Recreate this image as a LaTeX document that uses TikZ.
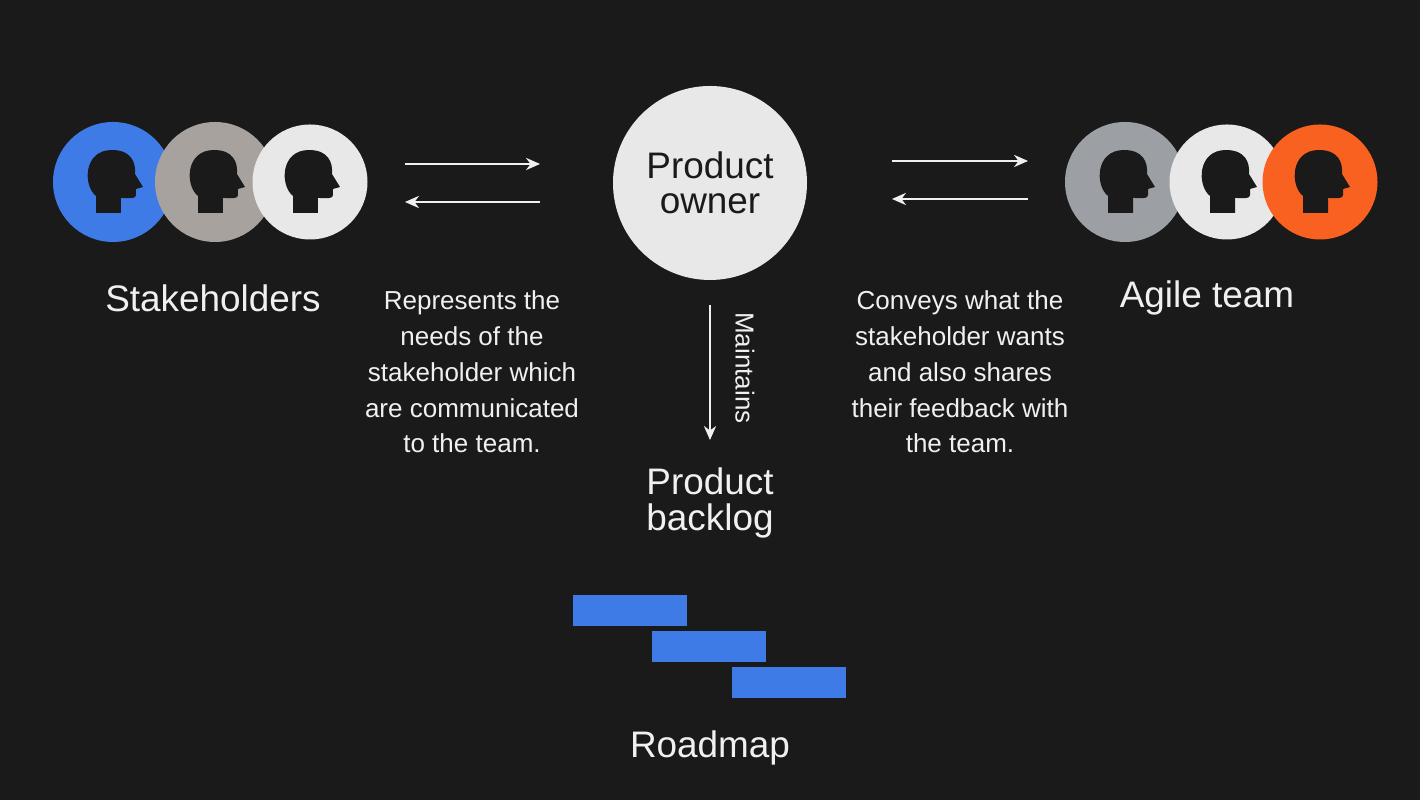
\documentclass[tikz,border=0pt]{standalone}
\usepackage{fontspec}
\setmainfont{Liberation Sans}
\definecolor{rmBg}{HTML}{1A1A1A}
\definecolor{rmText}{HTML}{F0F0F0}
\definecolor{rmBlue}{HTML}{3F7BE6}
\definecolor{rmStone}{HTML}{A8A29E}
\definecolor{rmLight}{HTML}{E8E8E8}
\definecolor{rmSlate}{HTML}{9CA0A4}
\definecolor{rmOrange}{HTML}{F96120}
\usetikzlibrary{positioning,arrows.meta}
\tikzset{
  person/.style={circle, minimum size=1.2cm, inner sep=0pt, fill=#1},
  title/.style={text=rmText, font=\fontsize{10.5pt}{10pt}\selectfont, align=center},
  note/.style={text=rmText, font=\fontsize{7.4pt}{10.2pt}\selectfont, align=center},
  flow/.style={draw=rmText, line width=0.4pt, -{Stealth[length=4pt,width=3.5pt]}},
  bar/.style={fill=rmBlue}
}
\newcommand{\headicon}[1]{%
  \fill[rmBg, shift={(#1)}, scale=0.01, yscale=-1]
    (-17,31) -- (-17,14) .. controls (-30,4) and (-30,-32) .. (-1,-32)
    .. controls (18,-32) and (23,-20) .. (22,-8) -- (30,5) -- (23,7) -- (23,13)
    .. controls (23,17) and (18,16) .. (8,16) -- (8,31) -- cycle;}
\begin{document}
\begin{tikzpicture}
  \fill[rmBg] (0,0) rectangle (14.2,8);
  \useasboundingbox (0,0) rectangle (14.2,8);

  % stakeholders
  \node[person=rmBlue]  (s1) at (1.13,6.18) {};
  \node[person=rmStone] (s2) at (2.15,6.18) {};
  \node[person=rmLight, minimum size=1.15cm] (s3) at (3.10,6.18) {};
  \foreach \p in {s1,s2,s3} {\headicon{\p}}
  \node[title] (stake) at (2.13,5.02) {Stakeholders};

  % agile team
  \node[person=rmSlate]  (a1) at (11.25,6.18) {};
  \node[person=rmLight, minimum size=1.15cm] (a2) at (12.27,6.18) {};
  \node[person=rmOrange, minimum size=1.15cm] (a3) at (13.20,6.18) {};
  \foreach \p in {a1,a2,a3} {\headicon{\p}}
  \node[title] (agile) at (12.07,5.02) {Agile team};

  % product owner
  \node[circle, fill=rmLight, minimum size=1.94cm, text=rmBg,
    font=\fontsize{10.5pt}{10pt}\selectfont, align=center, inner sep=0pt] (po) at (7.10,6.17)
    {Product\\owner};

  % arrows
  \coordinate (l1) at (4.05,6.36); \coordinate (l2) at (5.40,6.36);
  \coordinate (l3) at (5.40,5.98); \coordinate (l4) at (4.05,5.98);
  \draw[flow] (l1) -- (l2);
  \draw[flow] (l3) -- (l4);
  \coordinate (r1) at (8.92,6.39); \coordinate (r2) at (10.28,6.39);
  \coordinate (r3) at (10.28,6.01); \coordinate (r4) at (8.92,6.01);
  \draw[flow] (r1) -- (r2);
  \draw[flow] (r3) -- (r4);
  \coordinate (m1) at (7.10,4.95); \coordinate (m2) at (7.10,3.60);
  \draw[flow] (m1) -- (m2);
  \node[note, rotate=-90] (maint) at (7.45,4.32) {Maintains};

  % notes
  \node[note] (leftnote) at (4.72,4.28) {Represents the\\needs of the\\stakeholder which\\are communicated\\to the team.};
  \node[note] (rightnote) at (9.60,4.28) {Conveys what the\\stakeholder wants\\and also shares\\their feedback with\\the team.};

  % backlog
  \node[title] (backlog) at (7.10,2.97) {Product\\backlog};
  \fill[bar] (5.73,1.74) rectangle (6.87,2.05);
  \fill[bar] (6.52,1.38) rectangle (7.66,1.69);
  \fill[bar] (7.32,1.02) rectangle (8.46,1.33);
  \node[title] (road) at (7.10,0.52) {Roadmap};
\end{tikzpicture}
\end{document}
